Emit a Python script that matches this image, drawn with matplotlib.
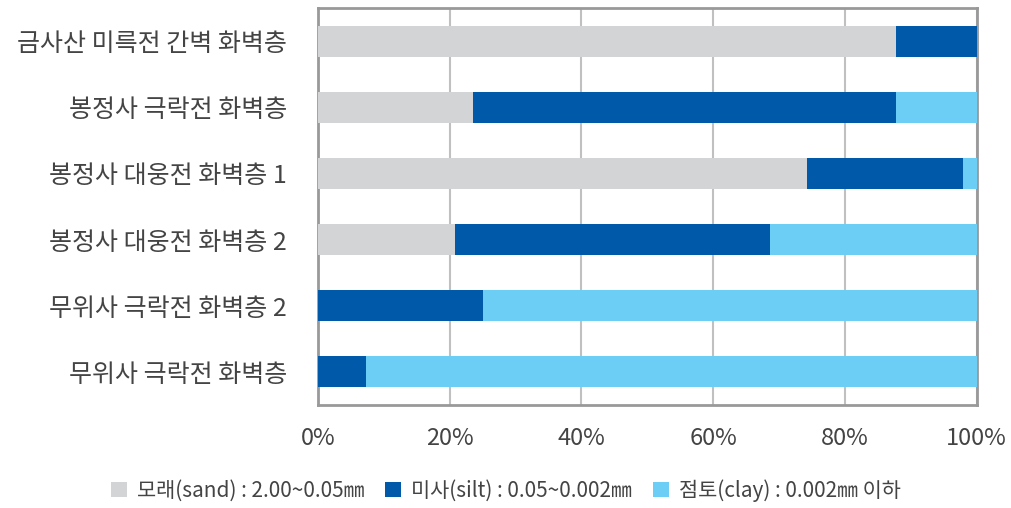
import matplotlib
matplotlib.use("Agg")
import matplotlib.pyplot as plt
import numpy as np

plt.rcParams['font.family'] = ['Noto Sans CJK KR', 'DejaVu Sans']

categories = ["금사산 미륵전 간벽 화벽층", "봉정사 극락전 화벽층", "봉정사 대웅전 화벽층 1",
              "봉정사 대웅전 화벽층 2", "무위사 극락전 화벽층 2", "무위사 극락전 화벽층"]
sand = np.array([87.8, 23.5, 74.3, 20.8, 0.0, 0.0])
silt = np.array([12.2, 64.2, 23.7, 47.9, 25.1, 7.3])
clay = np.array([0.0, 12.3, 2.0, 31.3, 74.9, 92.7])
series_labels = ["모래(sand) : 2.00~0.05㎜", "미사(silt) : 0.05~0.002㎜", "점토(clay) : 0.002㎜ 이하"]
colors = ["#d3d4d6", "#005aa9", "#6dcef5"]
xticks = [0, 20, 40, 60, 80, 100]

fig = plt.figure(figsize=(10.12, 5.08), dpi=100)
ax = fig.add_axes([0.314, 0.203, 0.651, 0.781])

y = np.arange(len(categories))
left = np.zeros(len(categories))
for vals, lab, c in zip([sand, silt, clay], series_labels, colors):
    ax.barh(y, vals, left=left, height=0.47, color=c, label=lab, zorder=3)
    left = left + vals

ax.set_xlim(0, 100)
ax.set_ylim(len(categories) - 0.5, -0.5)
ax.set_yticks(y)
ax.set_yticklabels(categories, fontsize=18, fontweight='light', color="#444444")
ax.set_xticks(xticks)
ax.set_xticklabels([f"{t}%" for t in xticks], fontsize=17, fontweight='light', color="#444444")
ax.tick_params(axis='both', length=0)
ax.tick_params(axis='y', pad=22)
ax.tick_params(axis='x', pad=16)
ax.grid(axis='x', color="#c0c0c0", linewidth=1.5, zorder=0)
for s in ax.spines.values():
    s.set_color("#999999")
    s.set_linewidth(2)

leg = fig.legend(loc="lower center", bbox_to_anchor=(0.5, -0.025), ncol=3, frameon=False,
                 handlelength=0.75, handleheight=0.75, handletextpad=0.5,
                 columnspacing=1.0, prop={'size': 15, 'weight': 'light'})
for t in leg.get_texts():
    t.set_color("#444444")

fig.savefig("out.png", dpi=100)
